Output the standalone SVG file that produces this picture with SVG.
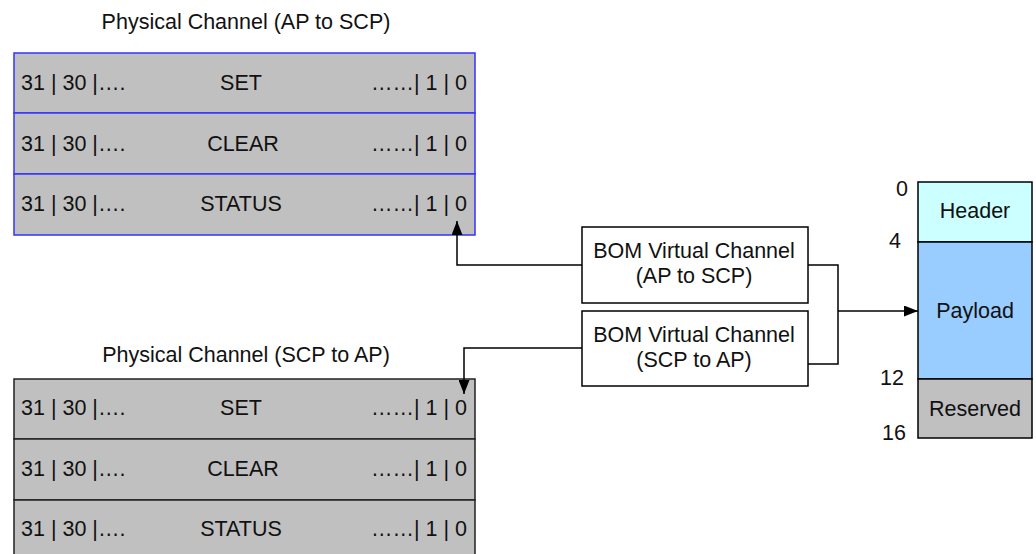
<svg xmlns="http://www.w3.org/2000/svg" width="1036" height="554" viewBox="0 0 1036 554">
<defs>
<style>
text{font-family:"Liberation Sans",Arial,sans-serif;font-size:21.5px;fill:#111;}
.row{fill:#c0c0c0;}
.blue{stroke:#3333ff;stroke-width:1.5;}
.blk{stroke:#222;stroke-width:1.5;}
.c{text-anchor:middle;}
.r{text-anchor:end;}
.conn{fill:none;stroke:#000;stroke-width:1.5;}
.box{fill:#fff;stroke:#000;stroke-width:1.5;}
</style>
<marker id="arr" viewBox="0 0 14 11" refX="14" refY="5.5" markerWidth="14" markerHeight="11" markerUnits="userSpaceOnUse" orient="auto">
<path d="M0,0 L14,5.5 L0,11 Z" fill="#000"/>
</marker>
</defs>
<rect width="1036" height="554" fill="#fff"/>

<g id="phys-ap-scp">
<text class="c" x="246" y="29">Physical Channel (AP to SCP)</text>
<rect class="row blue" x="14" y="53" width="461" height="60"/>
<rect class="row blue" x="14" y="113" width="461" height="61"/>
<rect class="row blue" x="14" y="174" width="461" height="61"/>
<text x="21" y="90">31 | 30 |….</text><text class="c" x="241" y="90">SET</text><text class="r" x="467" y="90">……| 1 | 0</text>
<text x="21" y="151">31 | 30 |….</text><text class="c" x="243" y="151">CLEAR</text><text class="r" x="467" y="151">……| 1 | 0</text>
<text x="21" y="211">31 | 30 |….</text><text class="c" x="241" y="211">STATUS</text><text class="r" x="467" y="211">……| 1 | 0</text>
</g>

<g id="phys-scp-ap">
<text class="c" x="246" y="362">Physical Channel (SCP to AP)</text>
<rect class="row blk" x="14" y="379" width="461" height="60"/>
<rect class="row blk" x="14" y="439" width="461" height="61"/>
<rect class="row blk" x="14" y="500" width="461" height="61"/>
<text x="21" y="415">31 | 30 |….</text><text class="c" x="241" y="415">SET</text><text class="r" x="467" y="415">……| 1 | 0</text>
<text x="21" y="476">31 | 30 |….</text><text class="c" x="243" y="476">CLEAR</text><text class="r" x="467" y="476">……| 1 | 0</text>
<text x="21" y="536">31 | 30 |….</text><text class="c" x="241" y="536">STATUS</text><text class="r" x="467" y="536">……| 1 | 0</text>
</g>

<g id="bom-ap-scp">
<rect class="box" x="582" y="227" width="226" height="76"/>
<text class="c" x="694" y="258">BOM Virtual Channel</text>
<text class="c" x="694" y="283">(AP to SCP)</text>
</g>

<g id="bom-scp-ap">
<rect class="box" x="582" y="311" width="226" height="75"/>
<text class="c" x="694" y="342">BOM Virtual Channel</text>
<text class="c" x="694" y="367">(SCP to AP)</text>
</g>

<g id="message">
<rect x="918" y="182" width="114" height="60" fill="#ccffff" stroke="#000" stroke-width="1.5"/>
<rect x="918" y="242" width="114" height="137" fill="#99ccff" stroke="#000" stroke-width="1.5"/>
<rect x="918" y="379" width="114" height="59" fill="#c0c0c0" stroke="#000" stroke-width="1.5"/>
<text class="c" x="975" y="218">Header</text>
<text class="c" x="975" y="318">Payload</text>
<text class="c" x="975" y="416">Reserved</text>
<text class="r" x="908" y="196">0</text>
<text class="r" x="901" y="248">4</text>
<text class="r" x="904" y="385">12</text>
<text class="r" x="906" y="440">16</text>
</g>

<g id="connectors">
<path class="conn" d="M582 265 H457 V221" marker-end="url(#arr)"/>
<path class="conn" d="M582 348 H464 V394" marker-end="url(#arr)"/>
<path class="conn" d="M808 265 H838 V364 H808"/>
<path class="conn" d="M838 311 H918" marker-end="url(#arr)"/>
</g>
</svg>
